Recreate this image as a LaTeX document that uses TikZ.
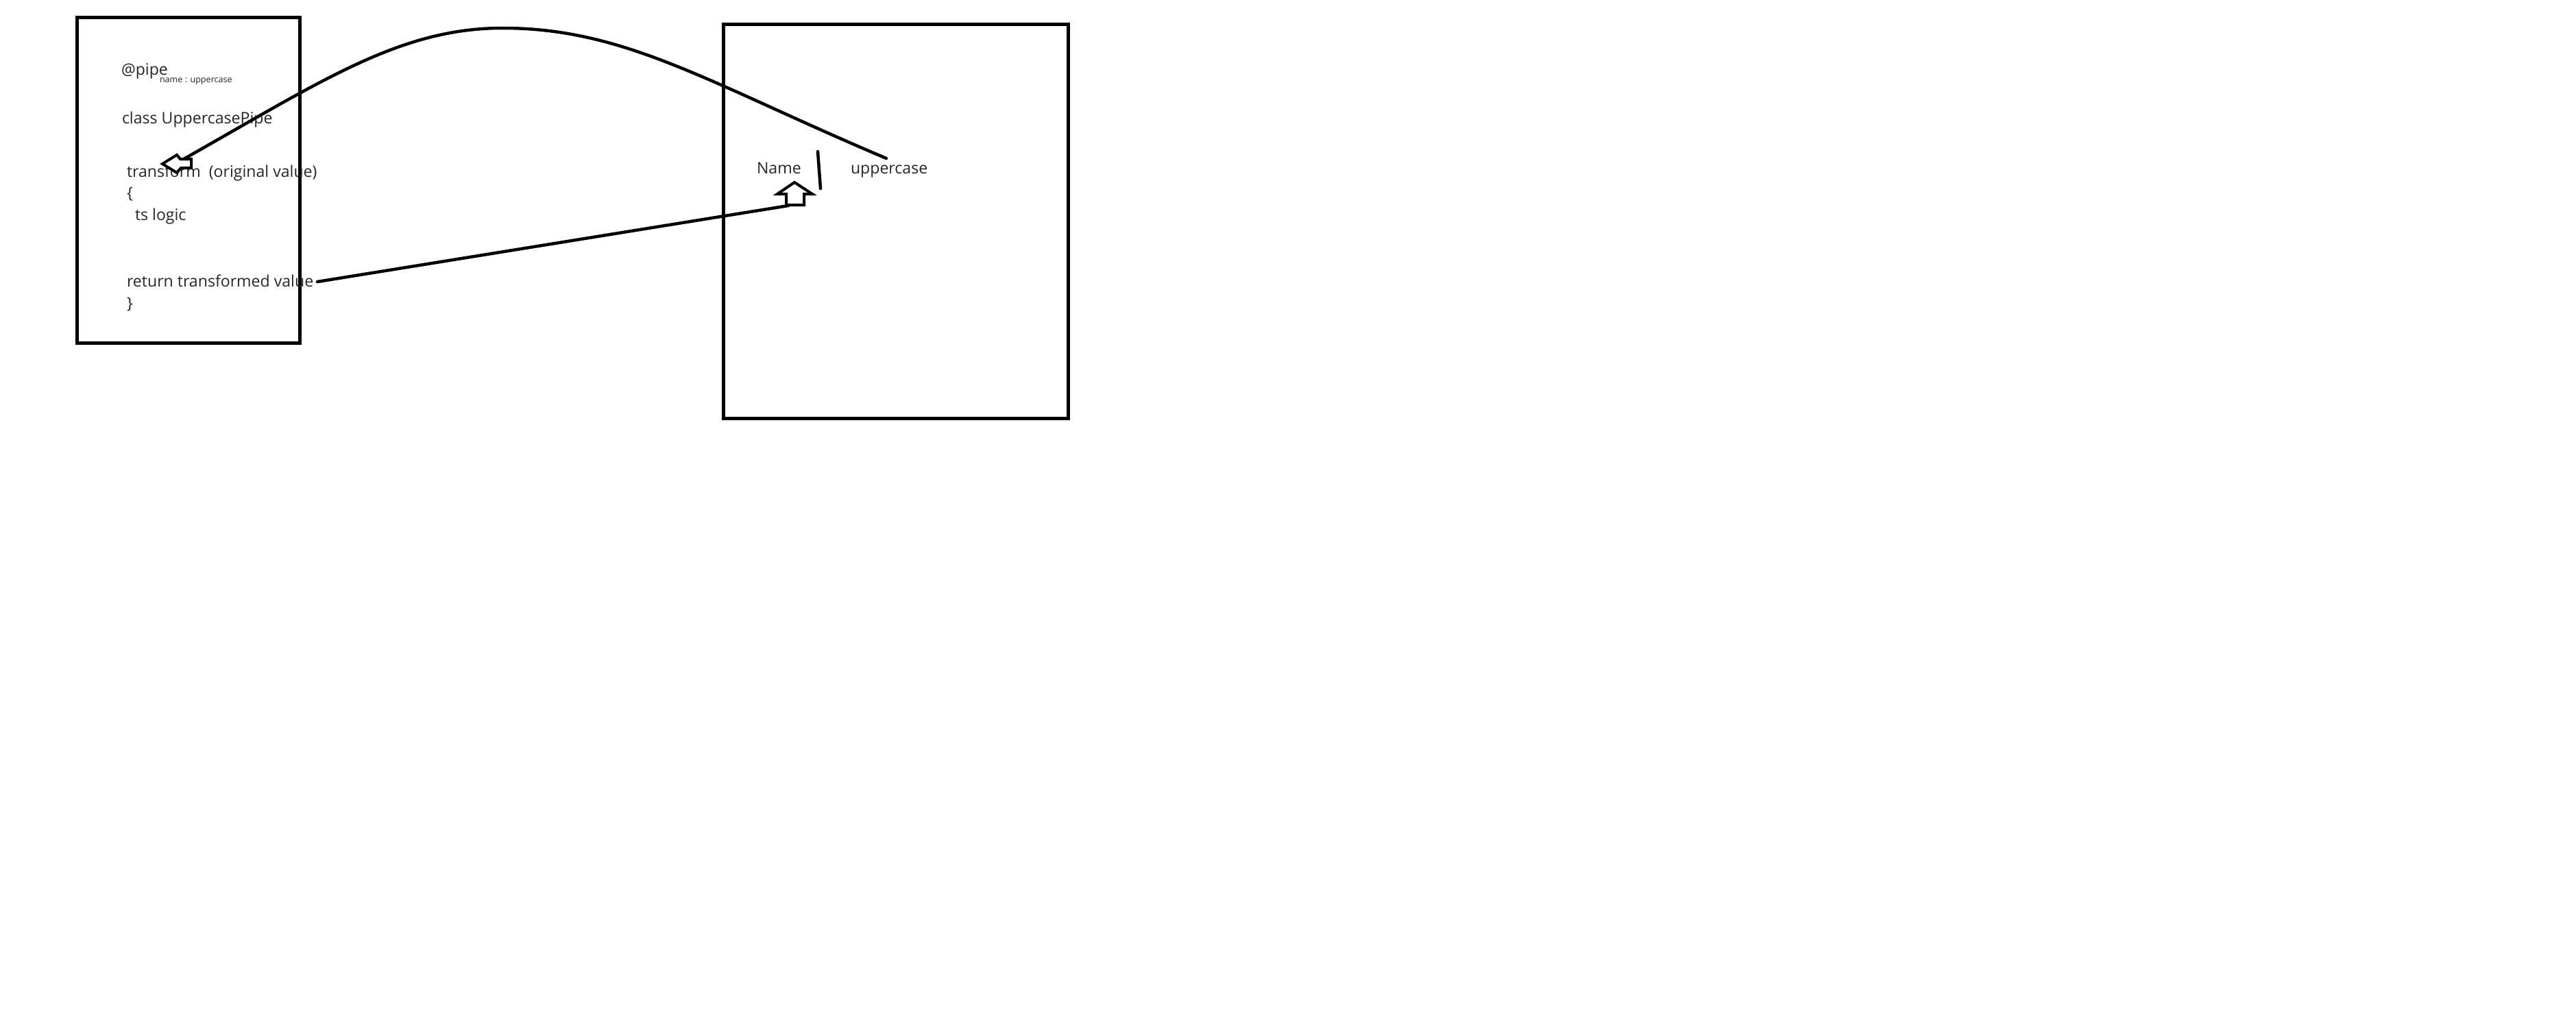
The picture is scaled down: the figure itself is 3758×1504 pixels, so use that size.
\documentclass[tikz,border=0pt]{standalone}
\usepackage{fontspec}
\setmainfont{Open Sans}
\begin{document}
\begin{tikzpicture}[x=1pt,y=-1pt,
  frame/.style={draw=black,line width=4.8pt},
  txt/.style={anchor=base west,inner sep=0pt,outer sep=0pt,text=black!85,font=\fontsize{23.1}{28}\selectfont},
  small/.style={anchor=base west,inner sep=0pt,outer sep=0pt,text=black!85,font=\fontsize{12.6}{15}\selectfont},
  wire/.style={draw=black,line width=4.5pt,line cap=round,line join=round},
  hollow/.style={draw=black,line width=4pt,line join=miter,fill=white}]
\useasboundingbox[fill=white] (0,0) rectangle (3758,1504);
% boxes
\node[frame,inner sep=0pt,minimum width=325pt,minimum height=475pt,anchor=north west] (lbox) at (110,23) {};
\node[frame,inner sep=0pt,minimum width=503pt,minimum height=575pt,anchor=north west] (rbox) at (1053,33) {};
% left box text
\node[txt] (pipe) at (177,109) {@pipe};
\node[small] (pname) at (233,120) {name : uppercase};
\node[txt] (cls) at (178,180) {class UppercasePipe};
\node[txt] (tr) at (185,258) {transform\ \ (original value)};
\node[txt] (ob) at (185,289) {\{};
\node[txt] (ts) at (197,321) {ts logic};
\node[txt] (ret) at (185,418) {return transformed value};
\node[txt] (cb) at (185,450) {\}};
% right box text
\node[txt] (nm) at (1104,253) {Name};
\node[txt] (up) at (1241,253) {uppercase};
% named points
\coordinate (arrL) at (268,232);
\coordinate (peak) at (733,41);
\coordinate (cend) at (1293,231);
\coordinate (retEnd) at (463,411);
\coordinate (arrU) at (1150,300);
\coordinate (barTop) at (1193,221);
\coordinate (barBot) at (1197,275);
% curve from uppercase to transform
\draw[wire] (arrL) .. controls (468,119) and (583,41) .. (peak)
                   .. controls (913,41) and (1035,122) .. (cend);
% straight connector from return value to Name
\draw[wire] (retEnd) -- (arrU);
% separator stroke
\draw[wire] (barTop) -- (barBot);
% hollow arrow pointing left (into transform)
\draw[hollow] (237,239) -- (258,226) -- (263,232) -- (279,232) -- (279,245) -- (264,245) -- (258,252) -- cycle;
% hollow arrow pointing up (into Name)
\draw[hollow] (1159,266) -- (1185,283) -- (1173,283) -- (1173,299) -- (1147,299) -- (1147,283) -- (1134,283) -- cycle;
\end{tikzpicture}
\end{document}
